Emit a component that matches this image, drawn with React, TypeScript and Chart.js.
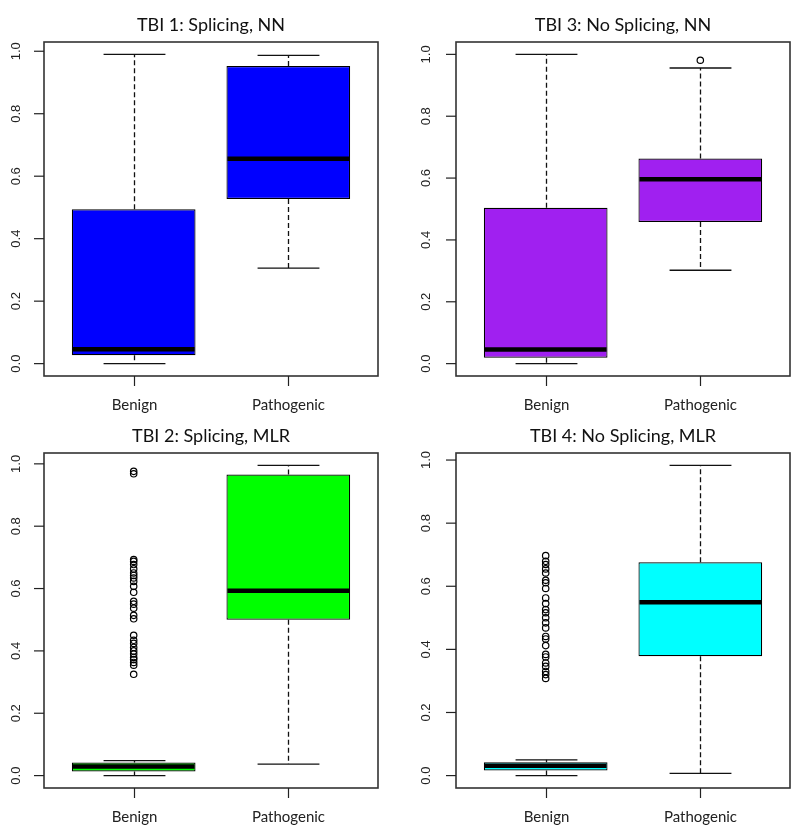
import { useEffect, useRef } from "react";
import { Chart, registerables } from "chart.js";

Chart.register(...registerables);

// ---- data ----
const categories = ["Benign", "Pathogenic"];
const yTickValues = [0, 0.2, 0.4, 0.6, 0.8, 1.0];
const yTickLabels = ["0.0", "0.2", "0.4", "0.6", "0.8", "1.0"];
const panelTitles = [
  "TBI 1: Splicing, NN",
  "TBI 3: No Splicing, NN",
  "TBI 2: Splicing, MLR",
  "TBI 4: No Splicing, MLR",
];

// five-number summaries: [lower whisker, Q1, median, Q3, upper whisker]
const tbi1Benign = [0.0, 0.027, 0.046, 0.494, 0.99];
const tbi1Pathogenic = [0.306, 0.527, 0.656, 0.953, 0.987];
const tbi3Benign = [0.0, 0.019, 0.046, 0.504, 1.0];
const tbi3Pathogenic = [0.302, 0.458, 0.596, 0.663, 0.956];
const tbi2Benign = [0.0, 0.013, 0.029, 0.042, 0.048];
const tbi2Pathogenic = [0.037, 0.5, 0.593, 0.966, 0.995];
const tbi4Benign = [0.0, 0.016, 0.031, 0.042, 0.05];
const tbi4Pathogenic = [0.007, 0.378, 0.549, 0.676, 0.983];

// outliers
const tbi3PathogenicOutliers = [0.981];
const tbi2BenignOutliers = [
  0.976, 0.968, 0.693, 0.687, 0.677, 0.663, 0.65, 0.642, 0.634, 0.623, 0.607,
  0.588, 0.559, 0.55, 0.537, 0.514, 0.503, 0.45, 0.434, 0.424, 0.411, 0.4,
  0.39, 0.379, 0.372, 0.363, 0.354, 0.325,
];
const tbi4BenignOutliers = [
  0.697, 0.679, 0.669, 0.655, 0.642, 0.619, 0.611, 0.593, 0.563, 0.545, 0.526,
  0.516, 0.5, 0.484, 0.468, 0.441, 0.433, 0.412, 0.384, 0.376, 0.357, 0.346,
  0.33, 0.32, 0.308,
];

// ---- styles / layout ----
const PANELS = [
  {
    title: panelTitles[0],
    stats: [tbi1Benign, tbi1Pathogenic],
    outliers: [[], []],
    color: "#0000FF",
    x: 0, y: 0, w: 400, h: 415,
    pad: { left: 44, right: 22, top: 42, bottom: 39 },
    labelX: 16.5,
  },
  {
    title: panelTitles[1],
    stats: [tbi3Benign, tbi3Pathogenic],
    outliers: [[], tbi3PathogenicOutliers],
    color: "#A020F0",
    x: 400, y: 0, w: 400, h: 415,
    pad: { left: 56, right: 10, top: 42, bottom: 39 },
    labelX: 26.5,
  },
  {
    title: panelTitles[2],
    stats: [tbi2Benign, tbi2Pathogenic],
    outliers: [tbi2BenignOutliers, []],
    color: "#00FF00",
    x: 0, y: 411, w: 400, h: 419,
    pad: { left: 44, right: 22, top: 42, bottom: 42 },
    labelX: 16.5,
  },
  {
    title: panelTitles[3],
    stats: [tbi4Benign, tbi4Pathogenic],
    outliers: [tbi4BenignOutliers, []],
    color: "#00FFFF",
    x: 400, y: 411, w: 400, h: 419,
    pad: { left: 56, right: 10, top: 42, bottom: 42 },
    labelX: 26.5,
  },
];

const rBoxPlugin = {
  id: "rbox",
  beforeDatasetsDraw(chart: any, _args: any, opts: any) {
    const { ctx } = chart;
    const xs = chart.scales.x;
    const ys = chart.scales.y;
    ctx.save();
    ctx.strokeStyle = "#111";
    ctx.lineWidth = 1.3;
    opts.stats.forEach((s: number[], i: number) => {
      const cx = Math.round(xs.getPixelForValue(i + 1)) + 0.5;
      const half = xs.getPixelForValue(i + 1.2) - xs.getPixelForValue(i + 1);
      ctx.setLineDash([5, 3]);
      ctx.beginPath();
      ctx.moveTo(cx, ys.getPixelForValue(s[3]));
      ctx.lineTo(cx, ys.getPixelForValue(s[4]));
      ctx.moveTo(cx, ys.getPixelForValue(s[1]));
      ctx.lineTo(cx, ys.getPixelForValue(s[0]));
      ctx.stroke();
      ctx.setLineDash([]);
      ctx.beginPath();
      for (const v of [s[0], s[4]]) {
        const py = ys.getPixelForValue(v);
        ctx.moveTo(cx - half, py);
        ctx.lineTo(cx + half, py);
      }
      ctx.stroke();
    });
    ctx.restore();
  },
  afterDatasetsDraw(chart: any, _args: any, opts: any) {
    const { ctx } = chart;
    const xs = chart.scales.x;
    const ys = chart.scales.y;
    ctx.save();
    ctx.strokeStyle = "#000";
    ctx.lineWidth = 4.5;
    ctx.lineCap = "butt";
    opts.stats.forEach((s: number[], i: number) => {
      const l = xs.getPixelForValue(i + 1 - 0.4);
      const r = xs.getPixelForValue(i + 1 + 0.4);
      const py = ys.getPixelForValue(s[2]);
      ctx.beginPath();
      ctx.moveTo(l + 1, py);
      ctx.lineTo(r - 1, py);
      ctx.stroke();
    });
    ctx.restore();
  },
  afterDraw(chart: any, _args: any, opts: any) {
    const { ctx, chartArea: a } = chart;
    const xs = chart.scales.x;
    const ys = chart.scales.y;
    ctx.save();
    // frame
    ctx.strokeStyle = "#333";
    ctx.lineWidth = 1.6;
    ctx.strokeRect(a.left, a.top, a.right - a.left, a.bottom - a.top);
    // y ticks
    ctx.lineWidth = 1.2;
    ctx.strokeStyle = "#222";
    ctx.fillStyle = "#222";
    ctx.font = "13px 'Liberation Sans', Arial, sans-serif";
    ctx.textAlign = "center";
    ctx.textBaseline = "middle";
    yTickValues.forEach((v, k) => {
      const py = ys.getPixelForValue(v);
      ctx.beginPath();
      ctx.moveTo(a.left - 10, py);
      ctx.lineTo(a.left, py);
      ctx.stroke();
      ctx.save();
      ctx.translate(opts.labelX, py);
      ctx.rotate(-Math.PI / 2);
      ctx.fillText(yTickLabels[k], 0, 0);
      ctx.restore();
    });
    // x ticks and labels
    ctx.font = "15px Lato, 'Open Sans', sans-serif";
    ctx.textBaseline = "alphabetic";
    categories.forEach((c, i) => {
      const px = Math.round(xs.getPixelForValue(i + 1)) + 0.5;
      ctx.beginPath();
      ctx.moveTo(px, a.bottom);
      ctx.lineTo(px, a.bottom + 10);
      ctx.stroke();
      ctx.fillText(c, px, a.bottom + 34);
    });
    // title
    ctx.fillStyle = "#111";
    ctx.font = "18px Lato, 'Open Sans', sans-serif";
    ctx.fillText(opts.title, (a.left + a.right) / 2, a.top - 11);
    ctx.restore();
  },
};

function BoxPanel({ cfg }: { cfg: any }) {
  const ref = useRef<HTMLCanvasElement | null>(null);
  useEffect(() => {
    const all = [...cfg.stats.flat(), ...cfg.outliers.flat()];
    const lo = Math.min(...all);
    const hi = Math.max(...all);
    const d = (hi - lo) * 0.04;
    const n = categories.length;
    const xd = n * 0.04;
    const chart = new Chart(ref.current as HTMLCanvasElement, {
      type: "bar",
      data: {
        datasets: [
          {
            type: "bar",
            data: cfg.stats.map((s: number[], i: number) => ({ x: i + 1, y: [s[1], s[3]] })),
            backgroundColor: cfg.color,
            borderColor: "#000",
            borderWidth: 1.2,
            borderSkipped: false,
            barPercentage: 0.8,
            categoryPercentage: 1,
          } as any,
          {
            type: "scatter",
            data: cfg.outliers.flatMap((arr: number[], i: number) =>
              arr.map((v) => ({ x: i + 1, y: v }))
            ),
            pointRadius: 3.2,
            pointBackgroundColor: "rgba(0,0,0,0)",
            pointBorderColor: "#000",
            pointBorderWidth: 1.2,
            showLine: false,
          } as any,
        ],
      },
      options: {
        responsive: false,
        animation: false,
        events: [],
        layout: { padding: cfg.pad },
        plugins: {
          legend: { display: false },
          tooltip: { enabled: false },
          rbox: { stats: cfg.stats, title: cfg.title, labelX: cfg.labelX },
        } as any,
        scales: {
          x: {
            type: "linear",
            display: false,
            offset: false,
            min: 0.5 - xd,
            max: n + 0.5 + xd,
            afterBuildTicks: (s: any) => {
              s.ticks = categories.map((_, i) => ({ value: i + 1 }));
            },
          },
          y: {
            type: "linear",
            display: false,
            beginAtZero: false,
            min: lo - d,
            max: hi + d,
          },
        },
      },
      plugins: [rBoxPlugin],
    });
    return () => chart.destroy();
  }, []);
  return (
    <canvas
      ref={ref}
      width={cfg.w}
      height={cfg.h}
      style={{ position: "absolute", left: cfg.x, top: cfg.y, width: cfg.w, height: cfg.h, display: "block" }}
    />
  );
}

export default function App() {
  return (
    <div style={{ position: "absolute", left: 0, top: 0, width: 800, height: 830, background: "#fff" }}>
      {PANELS.map((p, i) => (
        <BoxPanel key={i} cfg={p} />
      ))}
    </div>
  );
}
